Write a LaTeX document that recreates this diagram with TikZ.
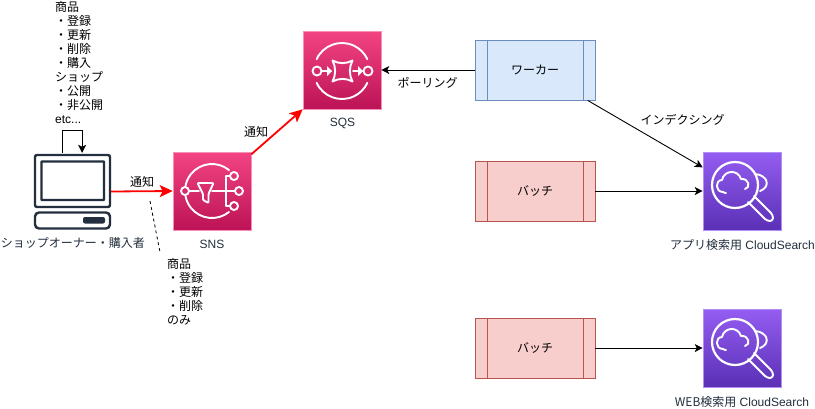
\documentclass[tikz,border=0pt]{standalone}
\usepackage{fontspec}
\setmainfont{Liberation Sans}
\newfontfamily\cjk{Noto Sans CJK JP}
\usetikzlibrary{arrows.meta,calc}
\definecolor{awsdark}{HTML}{232F3E}
\definecolor{pinktop}{HTML}{F34482}
\definecolor{pinkbot}{HTML}{BC1356}
\definecolor{purptop}{HTML}{945DF2}
\definecolor{purpbot}{HTML}{5A30B5}
\definecolor{bluefill}{HTML}{DAE8FC}
\definecolor{blueline}{HTML}{6C8EBF}
\definecolor{redfill}{HTML}{F8CECC}
\definecolor{redline}{HTML}{B85450}
\tikzset{
  x=1pt,y=-1pt,
  txt/.style={inner sep=0pt,font=\fontsize{12}{14}\selectfont,text=black},
  awslabel/.style={txt,text=awsdark},
  notetxt/.style={txt,align=left,anchor=north west},
  pinkicon/.style={rectangle,minimum size=78pt,inner sep=0pt,draw=pinktop!60!white,line width=0.6pt,top color=pinktop,bottom color=pinkbot},
  purpicon/.style={rectangle,minimum size=78pt,inner sep=0pt,draw=purptop!70!white,line width=0.6pt,top color=purptop,bottom color=purpbot},
  procbox/.style={rectangle,minimum width=120pt,minimum height=60pt,inner sep=0pt,line width=0.9pt,font=\fontsize{12}{14}\selectfont\cjk},
  workerbox/.style={procbox,draw=blueline,fill=bluefill},
  batchbox/.style={procbox,draw=redline,fill=redfill},
  blackarrow/.style={line width=0.9pt,-{Stealth[length=8pt,width=8pt,inset=2pt]}},
  redarrow/.style={line width=1.8pt,draw=red,-{Stealth[length=13pt,width=12pt,inset=3pt]}},
  iconline/.style={draw=white,line width=1.9pt,line join=round,line cap=round},
  pcline/.style={draw=awsdark,line width=2.4pt,rounded corners=2pt},
}
\newcommand{\csicon}[2]{%
  \begin{scope}[shift={(#1,#2)}]
    \draw[iconline,line width=2.2pt] (-7,-6) circle[radius=23];
    \draw[iconline] (-19,1) .. controls (-27,1) and (-27,-11) .. (-20,-11)
       .. controls (-18,-21) and (-4,-22) .. (-1,-12)
       .. controls (7,-13) and (9,-3) .. (3,-2);
    \draw[iconline] (-19,1) .. controls (-18,2) and (-16,2) .. (-16,2);
    \draw[iconline] (13,-17) .. controls (26,-16) and (29,-4) .. (18,0);
    \draw[iconline,rounded corners=3pt] (6,11) -- (25,30) -- (31,30) -- (31,24) -- (12,5);
  \end{scope}}
\begin{document}
\begin{tikzpicture}
\useasboundingbox (0,0) rectangle (815,408);
\fill[white] (0,0) rectangle (815,408);

% computer
\node[minimum size=77pt,inner sep=0pt] (pc) at (72.5,191.5) {};
\draw[pcline] (35,155) rectangle (110,207);
\draw[pcline,rounded corners=0.5pt] (41.5,161.5) rectangle (104,200);
\draw[pcline,rounded corners=4pt] (35,212.5) rectangle (110,228.5);
\fill[awsdark,rounded corners=2pt] (83,217) rectangle (105,223.5);

% services
\node[pinkicon] (sns) at (212,191) {};
\node[pinkicon] (sqs) at (342,70) {};
\node[purpicon] (cs1) at (742,191) {};
\node[purpicon] (cs2) at (742,348) {};

% process boxes
\node[workerbox] (worker) at (535,70) {ワーカー};
\node[batchbox] (batch1) at (535,191) {バッチ};
\node[batchbox] (batch2) at (535,348) {バッチ};
\draw[blueline,line width=0.9pt] (487,40) -- (487,100) (583,40) -- (583,100);
\draw[redline,line width=0.9pt] (487,161) -- (487,221) (583,161) -- (583,221);
\draw[redline,line width=0.9pt] (487,318) -- (487,378) (583,318) -- (583,378);

% SNS glyph
\draw[iconline] (212,191) ++(-51:27) arc[start angle=-51,end angle=-172,radius=27];
\draw[iconline] (212,191) ++(51:27) arc[start angle=51,end angle=172,radius=27];
\draw[iconline] (185,191) circle[radius=4];
\draw[iconline] (189,191) -- (199,191);
\draw[iconline,rounded corners=1pt] (197.5,183) -- (213.5,183) -- (208.5,194) -- (208.5,203) -- (203,200) -- (203,194) -- cycle;
\draw[iconline] (212,191) -- (235,191);
\draw[iconline] (230,176) -- (226,176) -- (226,206) -- (230,206);
\draw[iconline] (234,176) circle[radius=4];
\draw[iconline] (239,191) circle[radius=4];
\draw[iconline] (234,206) circle[radius=4];

% SQS glyph
\draw[iconline] (342,71) ++(-155:28) arc[start angle=-155,end angle=-25,radius=28];
\draw[iconline] (342,71) ++(155:28) arc[start angle=155,end angle=25,radius=28];
\draw[iconline] (317,71) circle[radius=4.5];
\draw[iconline] (368,71) circle[radius=4.5];
\draw[iconline] (322,71) -- (331,71);
\draw[iconline] (353,71) -- (362,71);
\fill[white] (332,71) -- (327,66) -- (327,76) -- cycle;
\fill[white] (363,71) -- (358,66) -- (358,76) -- cycle;
\draw[iconline] (332.5,60.5) .. controls (339,64) and (346,64) .. (352.5,60.5)
  .. controls (349,67) and (349,75) .. (352.5,81.5)
  .. controls (346,78) and (339,78) .. (332.5,81.5)
  .. controls (336,75) and (336,67) .. (332.5,60.5) -- cycle;

% CloudSearch glyphs
\csicon{742}{191}
\csicon{742}{348}

% connectors
\draw[line width=0.9pt,-{Stealth[length=8pt,width=8pt,inset=2pt]}] (pc.105) -- ++(0,-22) -| (pc.76);
\draw[redarrow] (pc.east) -- (sns.west);
\draw[redarrow] (sns.43) -- (sqs.south west);
\draw[blackarrow] (worker.west) -- (sqs.east);
\draw[blackarrow] (worker.-30) -- (cs1.149.5);
\draw[blackarrow] (batch1.east) -- (cs1.west);
\draw[blackarrow] (batch2.east) -- (cs2.west);
\coordinate (dashA) at (150,201);
\coordinate (dashB) at (160,252);
\draw[black,line width=0.8pt,dash pattern=on 3pt off 3pt] (dashA) -- (dashB);

% labels
\node[txt] (lblA) at (142,182) {\cjk 通知};
\node[txt] (lblB) at (256,132) {\cjk 通知};
\node[txt] (lblC) at (427.5,82.5) {\cjk ポーリング};
\node[txt] (lblD) at (682.5,120) {\cjk インデクシング};
\node[awslabel] (lblSNS) at (212,244.5) {SNS};
\node[awslabel] (lblSQS) at (342.5,123.5) {SQS};
\node[awslabel] (lblPC) at (73,242.5) {\cjk ショップオーナー・購入者};
\node[awslabel] (lblCS1) at (742.5,245) {{\cjk アプリ検索用} CloudSearch};
\node[awslabel] (lblCS2) at (742,402) {{\cjk WEB検索用} CloudSearch};
\node[notetxt] (noteA) at (55,1) {\cjk 商品\\\cjk ・登録\\\cjk ・更新\\\cjk ・削除\\\cjk ・購入\\\cjk ショップ\\\cjk ・公開\\\cjk ・非公開\\etc...};
\node[notetxt] (noteB) at (167,258) {\cjk 商品\\\cjk ・登録\\\cjk ・更新\\\cjk ・削除\\\cjk のみ};
\end{tikzpicture}
\end{document}
